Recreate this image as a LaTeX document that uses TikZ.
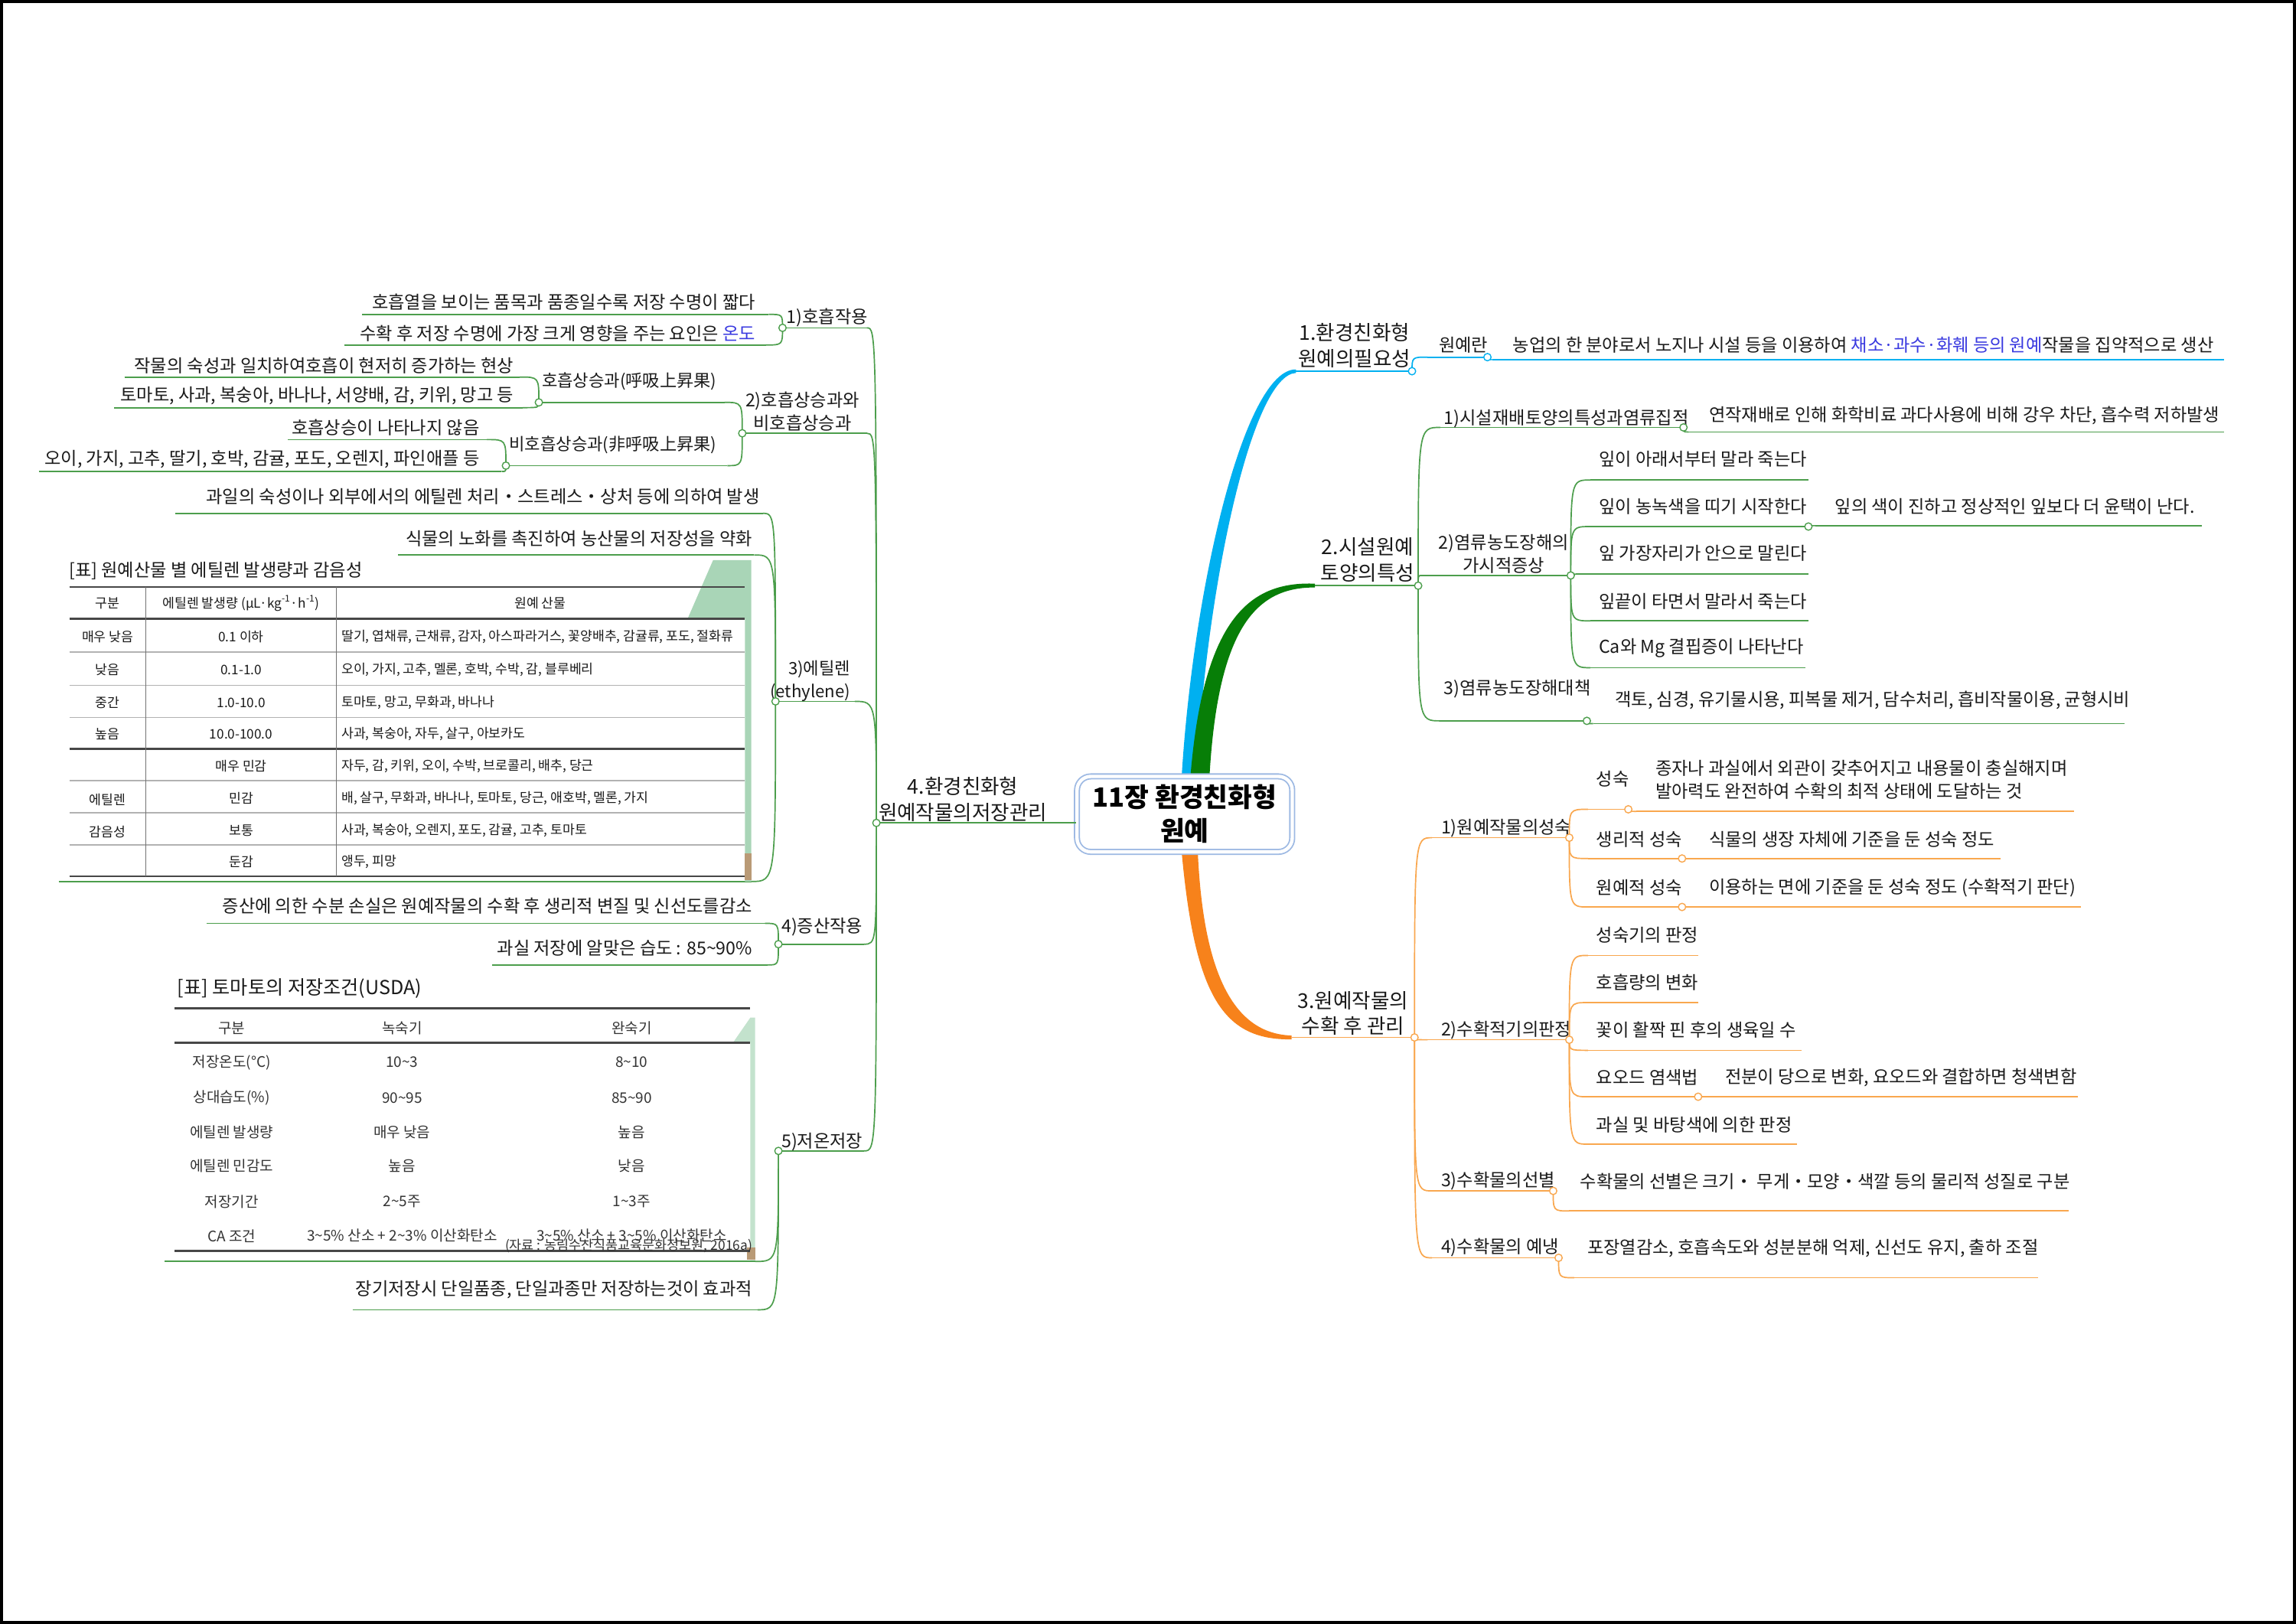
\documentclass[tikz,border=0pt]{standalone}
\usepackage{fontspec}
\setmainfont{Noto Sans CJK KR}
\usetikzlibrary{calc}
\definecolor{cb}{HTML}{00B0F0}
\definecolor{cgD}{HTML}{077E07}
\definecolor{cg}{HTML}{4C9E4C}
\definecolor{coD}{HTML}{F7821B}
\definecolor{co}{HTML}{F9A74E}
\definecolor{ctx}{HTML}{1A1A1A}
\definecolor{cbl}{HTML}{3A3AE0}
\definecolor{tgreen}{HTML}{A9D5B7}
\definecolor{tbrown}{HTML}{B99A76}
\definecolor{cbox}{HTML}{9DB9E3}
\newcommand\tld{\textasciitilde}
\newcommand\mkln[5]{\coordinate (#1s) at (#3,#5); \coordinate (#1e) at (#4,#5); \draw[#2] (#1s) -- (#1e);}
\newcommand\mkcv[3]{\draw[#1] (#2) .. controls (#2 |- #3) .. (#3);}
\newcommand\mkdot[2]{\draw[#1, line width=0.7pt, fill=white] (#2) circle[radius=2.4pt];}
\begin{document}
\begin{tikzpicture}[x=0.9566pt,y=-0.9566pt,
  ln/.style={line width=0.85pt},
  lb/.style={ln, draw=cb}, lg/.style={ln, draw=cg}, lo/.style={ln, draw=co},
  tx/.style={font=\fontsize{11.6}{14.9}\selectfont, inner sep=0pt, text=ctx},
  txs/.style={font=\fontsize{11.1}{14.9}\selectfont, inner sep=0pt, text=ctx},
  t1/.style={font=\fontsize{13.3}{16.9}\selectfont, inner sep=0pt, align=center, text=ctx},
  t2/.style={tx, align=center},
  tb/.style={font=\fontsize{8.6}{10}\selectfont, inner sep=0pt, text=ctx},
  tt/.style={font=\fontsize{9.5}{11}\selectfont, inner sep=0pt, text=black!80},
  rk/.style={line width=1.2pt, draw=black!72},
  rg/.style={line width=0.9pt, draw=black!30},
  rv/.style={line width=0.5pt, draw=black!55}]
\useasboundingbox (0,0) rectangle (1568,1109);
\fill[white] (0,0) rectangle (1568,1109);
\draw[black, line width=2.2pt] (1,1) rectangle (1567,1108);

% ---------- main thick branches ----------
\fill[cb] (807,530) .. controls (815,400) and (850,252) .. (885,252.3) -- (885,254.7) .. controls (855,256) and (824,400) .. (817,530) -- cycle;
\fill[cgD] (813,530) .. controls (822,420) and (855,397) .. (898,398.6) -- (898,401.2) .. controls (860,401) and (832,425) .. (826,530) -- cycle;
\fill[coD] (807,582) .. controls (816,680) and (835,710.5) .. (882,709.8) -- (882,707.2) .. controls (845,706) and (822,670) .. (818,582) -- cycle;

\node[draw=cbox, double=white, double distance=2.2pt, line width=0.9pt, rounded corners=9pt,
  minimum width=140.6pt, minimum height=49.3pt, fill=white, inner sep=0pt, align=center,
  font=\bfseries\fontsize{17.3}{22}\selectfont] (root) at (809,556) {11장 환경친화형\\원예};

% ---------- 1. blue ----------
\coordinate (b1e) at (885,253.5); \coordinate (J1) at (964.3,253.5);
\draw[lb] (b1e) -- (J1);
\node[t1] (L1) at (925,236) {1.환경친화형\\원예의필요성};
\mkln{k11}{lb}{975}{1015.8}{243.9}
\mkcv{lb}{J1}{k11s}
\node[tx, anchor=west] (n11) at (982.5,235.7) {원예란};
\mkln{k111}{lb}{1019}{1519}{245.6}
\mkcv{lb}{k11e}{k111s}
\node[tx, anchor=west] (n111) at (1033,235.7) {농업의 한 분야로서 노지나 시설 등을 이용하여 \textcolor{cbl}{채소·과수·화훼 등의 원예}작물을 집약적으로 생산};
\mkdot{draw=cb}{J1}
\mkdot{draw=cb}{k11e}

% ---------- 2. green ----------
\coordinate (b2e) at (898,400); \coordinate (J2) at (968.5,400);
\draw[lg] (b2e) -- (J2);
\node[t1] (L2) at (934,382.5) {2.시설원예\\토양의특성};
\mkln{k21}{lg}{983.6}{1149.7}{291.9}
\mkcv{lg}{J2}{k21s}
\node[tx, anchor=west] (n21) at (986,286) {1)시설재배토양의특성과염류집적};
\mkln{k211}{lg}{1153}{1519}{295}
\mkcv{lg}{k21e}{k211s}
\node[tx, anchor=west] (n211) at (1167,284) {연작재배로 인해 화학비료 과다사용에 비해 강우 차단, 흡수력 저하발생};
\mkln{k22}{lg}{971}{1072.7}{393}
\mkcv{lg}{J2}{k22s}
\node[t2] (n22) at (1027,378.2) {2)염류농도장해의\\가시적증상};
\mkln{k22a}{lg}{1086}{1235}{327.8}
\mkln{k22b}{lg}{1086}{1235}{359.6}
\mkln{k22c}{lg}{1086}{1235}{392}
\mkln{k22d}{lg}{1086}{1235}{424}
\mkln{k22e}{lg}{1086}{1233}{456}
\foreach \q in {a,b,c,d,e}{\mkcv{lg}{k22e}{k22\q s}}
\node[tx, anchor=west] (n22a) at (1091.7,313.6) {잎이 아래서부터 말라 죽는다};
\node[tx, anchor=west] (n22b) at (1091.7,345.9) {잎이 농녹색을 띠기 시작한다};
\node[tx, anchor=west] (n22c) at (1091.7,378) {잎 가장자리가 안으로 말린다};
\node[tx, anchor=west] (n22d) at (1091.7,410.6) {잎끝이 타면서 말라서 죽는다};
\node[tx, anchor=west] (n22e) at (1091.7,442.8) {Ca와 Mg 결핍증이 나타난다};
\mkln{k22b1}{lg}{1240}{1503.6}{359}
\mkcv{lg}{k22be}{k22b1s}
\node[tx, anchor=west] (n22b1) at (1253,346) {잎의 색이 진하고 정상적인 잎보다 더 윤택이 난다.};
\mkln{k23}{lg}{983.6}{1083.7}{492.3}
\mkcv{lg}{J2}{k23s}
\node[tx, anchor=west] (n23) at (986,470.5) {3)염류농도장해대책};
\mkln{k231}{lg}{1088}{1451}{494.2}
\mkcv{lg}{k23e}{k231s}
\node[tx, anchor=west] (n231) at (1102.8,478) {객토, 심경, 유기물시용, 피복물 제거, 담수처리, 흡비작물이용, 균형시비};
\mkdot{draw=cg}{J2}
\mkdot{draw=cg}{k21e}
\mkdot{draw=cg}{k22e}
\mkdot{draw=cg}{k22be}
\mkdot{draw=cg}{k23e}

% ---------- 3. orange ----------
\coordinate (b3e) at (882,708.5); \coordinate (J3) at (966,708.5);
\draw[lo] (b3e) -- (J3);
\node[t1] (L3) at (924,692) {3.원예작물의\\수확 후 관리};
\mkln{k31}{lo}{978}{1071.7}{572.1}
\mkcv{lo}{J3}{k31s}
\node[tx, anchor=west] (n31) at (984,565.4) {1)원예작물의성숙};
\mkln{k311}{lo}{1084.5}{1112}{552.7}
\mkcv{lo}{k31e}{k311s}
\node[tx, anchor=west] (n311) at (1090,531.8) {성숙};
\mkln{k3111}{lo}{1117.5}{1416.6}{554.1}
\mkcv{lo}{k311e}{k3111s}
\node[tx, anchor=west, align=left] (n3111) at (1130.4,532.4) {종자나 과실에서 외관이 갖추어지고 내용물이 충실해지며\\발아력도 완전하여 수확의 최적 상태에 도달하는 것};
\mkln{k312}{lo}{1084.5}{1148.7}{586.3}
\mkcv{lo}{k31e}{k312s}
\node[tx, anchor=west] (n312) at (1090,573.1) {생리적 성숙};
\mkln{k3121}{lo}{1152}{1366}{586.3}
\mkcv{lo}{k312e}{k3121s}
\node[tx, anchor=west] (n3121) at (1167,573.1) {식물의 생장 자체에 기준을 둔 성숙 정도};
\mkln{k313}{lo}{1084.5}{1148.7}{619.4}
\mkcv{lo}{k31e}{k313s}
\node[tx, anchor=west] (n313) at (1090,606.2) {원예적 성숙};
\mkln{k3131}{lo}{1152}{1421.3}{619.4}
\mkcv{lo}{k313e}{k3131s}
\node[tx, anchor=west] (n3131) at (1167,606.2) {이용하는 면에 기준을 둔 성숙 정도 (수확적기 판단)};
\mkln{k32}{lo}{975}{1071.7}{710.1}
\mkcv{lo}{J3}{k32s}
\node[tx, anchor=west] (n32) at (984,703.4) {2)수확적기의판정};
\mkln{k321}{lo}{1084.5}{1159.7}{652.5}
\mkln{k322}{lo}{1084.5}{1159.7}{684.7}
\mkln{k323}{lo}{1084.5}{1230.5}{717.3}
\mkln{k324}{lo}{1084.5}{1159.7}{749}
\mkln{k325}{lo}{1084.5}{1227}{781.4}
\foreach \q in {1,...,5}{\mkcv{lo}{k32e}{k32\q s}}
\node[tx, anchor=west] (n321) at (1090,638.6) {성숙기의 판정};
\node[tx, anchor=west] (n322) at (1090,671) {호흡량의 변화};
\node[tx, anchor=west] (n323) at (1090,703.4) {꽃이 활짝 핀 후의 생육일 수};
\node[tx, anchor=west] (n324) at (1090,735.8) {요오드 염색법};
\node[tx, anchor=west] (n325) at (1090,768.2) {과실 및 바탕색에 의한 판정};
\mkln{k3241}{lo}{1163}{1419}{749}
\mkcv{lo}{k324e}{k3241s}
\node[tx, anchor=west] (n3241) at (1178,735.8) {전분이 당으로 변화, 요오드와 결합하면 청색변함};
\mkln{k33}{lo}{978}{1060.7}{813.3}
\mkcv{lo}{J3}{k33s}
\node[tx, anchor=west] (n33) at (984,806.6) {3)수확물의선별};
\mkln{k331}{lo}{1071.7}{1413}{827}
\mkcv{lo}{k33e}{k331s}
\node[tx, anchor=west] (n331) at (1079,806.6) {수확물의 선별은 크기・ 무게・모양・색깔 등의 물리적 성질로 구분};
\mkln{k34}{lo}{978}{1064.4}{859}
\mkcv{lo}{J3}{k34s}
\node[tx, anchor=west] (n34) at (984,852.2) {4)수확물의 예냉};
\mkln{k341}{lo}{1075}{1392}{872.6}
\mkcv{lo}{k34e}{k341s}
\node[tx, anchor=west] (n341) at (1083.8,852.2) {포장열감소, 호흡속도와 성분분해 억제, 신선도 유지, 출하 조절};
\mkdot{draw=co}{J3}
\mkdot{draw=co}{k31e}
\mkdot{draw=co}{k311e}
\mkdot{draw=co}{k312e}
\mkdot{draw=co}{k313e}
\mkdot{draw=co}{k32e}
\mkdot{draw=co}{k324e}
\mkdot{draw=co}{k33e}
\mkdot{draw=co}{k34e}

% ---------- 4. left green ----------
\coordinate (J4) at (598.5,562);
\draw[lg] (J4) -- (root.west |- J4);
\node[t1] (L4) at (657.6,545.8) {4.환경친화형\\원예작물의저장관리};
% 1)
\mkln{k41}{lg}{534.4}{592}{223.9}
\mkcv{lg}{J4}{k41e}
\node[tx, anchor=west] (n41) at (537,217) {1)호흡작용};
\mkln{k411}{lg}{247.4}{525}{214.7}
\mkln{k412}{lg}{235}{523}{235.6}
\mkcv{lg}{k41s}{k411e}
\mkcv{lg}{k41s}{k412e}
\node[tx, anchor=east] (n411) at (516,206.5) {호흡열을 보이는 품목과 품종일수록 저장 수명이 짧다};
\node[tx, anchor=east] (n412) at (516,227.7) {수확 후 저장 수명에 가장 크게 영향을 주는 요인은 \textcolor{cbl}{온도}};
% 2)
\mkln{k42}{lg}{506.9}{592}{295.9}
\mkcv{lg}{J4}{k42e}
\node[t2] (n42) at (548,281) {2)호흡상승과와\\비호흡상승과};
\mkln{k421}{lg}{368}{494.7}{274.8}
\mkcv{lg}{k42s}{k421e}
\node[txs, anchor=east] (n421) at (489.5,260.5) {호흡상승과(呼吸上昇果)};
\mkln{k4211}{lg}{85}{355}{257.5}
\mkln{k4212}{lg}{77.9}{357}{278.4}
\mkcv{lg}{k421s}{k4211e}
\mkcv{lg}{k421s}{k4212e}
\node[tx, anchor=east] (n4211) at (351,249.5) {작물의 숙성과 일치하여호흡이 현저히 증가하는 현상};
\node[tx, anchor=east] (n4212) at (351,270.4) {토마토, 사과, 복숭아, 바나나, 서양배, 감, 키위, 망고 등};
\mkln{k422}{lg}{345.5}{496.7}{318}
\mkcv{lg}{k42s}{k422e}
\node[txs, anchor=east] (n422) at (489.5,304) {비호흡상승과(非呼吸上昇果)};
\mkln{k4221}{lg}{196.7}{332.5}{300.2}
\mkln{k4222}{lg}{26.4}{342.6}{322}
\mkcv{lg}{k422s}{k4221e}
\mkcv{lg}{k422s}{k4222e}
\node[tx, anchor=east] (n4221) at (327.6,292.2) {호흡상승이 나타나지 않음};
\node[tx, anchor=east] (n4222) at (327.6,313.6) {오이, 가지, 고추, 딸기, 호박, 감귤, 포도, 오렌지, 파인애플 등};
% 3)
\mkln{k43}{lg}{529.6}{583.7}{479}
\mkcv{lg}{J4}{k43e}
\node[txs, anchor=east, align=right] (n43) at (581,465.2) {3)에틸렌\\(ethylene)};
\mkln{k431}{lg}{119.6}{521}{350.6}
\mkln{k432}{lg}{272}{515}{379}
\mkln{k433}{lg}{40}{513}{602}
\mkcv{lg}{k43s}{k431e}
\mkcv{lg}{k43s}{k432e}
\mkcv{lg}{k43s}{k433e}
\node[tx, anchor=east] (n431) at (519,338.9) {과일의 숙성이나 외부에서의 에틸렌 처리・스트레스・상처 등에 의하여 발생};
\node[tx, anchor=east] (n432) at (514,367.7) {식물의 노화를 촉진하여 농산물의 저장성을 약화};
% ethylene table
\fill[tgreen] (487,382.5) -- (513,382.5) -- (513,602) -- (508.7,602) -- (508.7,422.5) -- (469.6,422.5) -- cycle;
\fill[tbrown] (508.7,583) rectangle (513,601);
\node[anchor=west, inner sep=0pt, font=\fontsize{11.6}{13}\selectfont, text=ctx] (et) at (47,390) {[표] 원예산물 별 에틸렌 발생량과 감음성};
\draw[rk] (47.4,400.8) -- (508.7,400.8);
\draw[rk] (47.4,422.5) -- (508.7,422.5);
\foreach \yy in {445.5,468,490,533,555,577}{\draw[rg] (47.4,\yy) -- (508.7,\yy);}
\draw[rk] (47.4,511.5) -- (508.7,511.5);
\draw[rk] (47.4,598.5) -- (508.7,598.5);
\draw[rv] (99.7,400.8) -- (99.7,598.5);
\draw[rv] (229.7,400.8) -- (229.7,598.5);
\node[tb] (eh1) at (73.5,412) {구분};
\node[tb] (eh2) at (164.7,412) {에틸렌 발생량 (μL·kg\textsuperscript{-1}·h\textsuperscript{-1})};
\node[tb] (eh3) at (369,412) {원예 산물};
\foreach \i/\y/\a/\b/\c in {
 1/435/{매우 낮음}/{0.1 이하}/{딸기, 엽채류, 근채류, 감자, 아스파라거스, 꽃양배추, 감귤류, 포도, 절화류},
 2/457.5/{낮음}/{0.1-1.0}/{오이, 가지, 고추, 멜론, 호박, 수박, 감, 블루베리},
 3/480/{중간}/{1.0-10.0}/{토마토, 망고, 무화과, 바나나},
 4/501.5/{높음}/{10.0-100.0}/{사과, 복숭아, 자두, 살구, 아보카도},
 5/523/{}/{매우 민감}/{자두, 감, 키위, 오이, 수박, 브로콜리, 배추, 당근},
 6/545/{}/{민감}/{배, 살구, 무화과, 바나나, 토마토, 당근, 애호박, 멜론, 가지},
 7/567/{}/{보통}/{사과, 복숭아, 오렌지, 포도, 감귤, 고추, 토마토},
 8/588.5/{}/{둔감}/{앵두, 피망}}
{\node[tb] (ea\i) at (73.5,\y) {\a}; \node[tb] (eb\i) at (164.7,\y) {\b}; \node[tb, anchor=west] (ec\i) at (233,\y) {\c};}
\node[tb, align=center, font=\fontsize{8.6}{21}\selectfont] (eg) at (73.5,557) {에틸렌\\감음성};
% 4)
\mkln{k44}{lg}{531.6}{590}{644.8}
\mkcv{lg}{J4}{k44e}
\node[tx, anchor=west] (n44) at (533.5,633.2) {4)증산작용};
\mkln{k441}{lg}{141}{522.5}{630.6}
\mkln{k442}{lg}{336}{524}{659}
\mkcv{lg}{k44s}{k441e}
\mkcv{lg}{k44s}{k442e}
\node[tx, anchor=east] (n441) at (514,618.6) {증산에 의한 수분 손실은 원예작물의 수확 후 생리적 변질 및 신선도를감소};
\node[tx, anchor=east] (n442) at (514,647.7) {과실 저장에 알맞은 습도 : 85\tld 90\%};
% 5)
\mkln{k45}{lg}{531.6}{590}{786}
\mkcv{lg}{J4}{k45e}
\node[tx, anchor=west] (n45) at (533.5,779.9) {5)저온저장};
\mkln{k451}{lg}{112.6}{515.7}{861.5}
\mkln{k452}{lg}{240.8}{517.4}{894.5}
\mkcv{lg}{k45s}{k451e}
\mkcv{lg}{k45s}{k452e}
\node[tx, anchor=east] (n452) at (514,880.9) {장기저장시 단일품종, 단일과종만 저장하는것이 효과적};
% tomato table
\fill[tgreen!70] (500.5,712.2) -- (512.4,695) -- (515.7,695) -- (515.7,860.5) -- (512.4,860.5) -- (512.4,712.2) -- cycle;
\fill[tbrown] (510,851.7) rectangle (515.7,860.5);
\node[anchor=west, inner sep=0pt, font=\fontsize{12.6}{14}\selectfont, text=ctx] (tt0) at (121,675) {[표] 토마토의 저장조건(USDA)};
\draw[rk] (119.4,688.5) -- (512.4,688.5);
\draw[rk, line width=1.5pt] (119.4,712.2) -- (512.4,712.2);
\draw[rk, line width=1.5pt] (119.4,854.1) -- (512.4,854.1);
\node[tt] (th1) at (158.2,702.1) {구분};
\node[tt] (th2) at (274.6,702.1) {녹숙기};
\node[tt] (th3) at (431.4,702.1) {완숙기};
\foreach \i/\y/\a/\b/\c in {
 1/725.5/{저장온도(°C)}/{10\tld 3}/{8\tld 10},
 2/749.7/{상대습도(\%)}/{90\tld 95}/{85\tld 90},
 3/773/{에틸렌 발생량}/{매우 낮음}/{높음},
 4/796.4/{에틸렌 민감도}/{높음}/{낮음},
 5/820.7/{저장기간}/{2\tld 5주}/{1\tld 3주},
 6/844/{CA 조건}/{3\tld 5\% 산소 + 2\tld 3\% 이산화탄소}/{3\tld 5\% 산소 + 3\tld 5\% 이산화탄소}}
{\node[tt] (ta\i) at (158.2,\y) {\a}; \node[tt] (tb\i) at (274.6,\y) {\b}; \node[tt] (tc\i) at (431.4,\y) {\c};}
\node[anchor=east, inner sep=0pt, font=\fontsize{8.7}{10}\selectfont, text=black!80] (tsrc) at (514,851) {(자료 : 농림수산식품교육문화정보원, 2016a)};
% dots left
\mkdot{draw=cg}{J4}
\mkdot{draw=cg}{k41s}
\mkdot{draw=cg}{k42s}
\mkdot{draw=cg}{k421s}
\mkdot{draw=cg}{k422s}
\mkdot{draw=cg}{k43s}
\mkdot{draw=cg}{k44s}
\mkdot{draw=cg}{k45s}
\end{tikzpicture}
\end{document}
